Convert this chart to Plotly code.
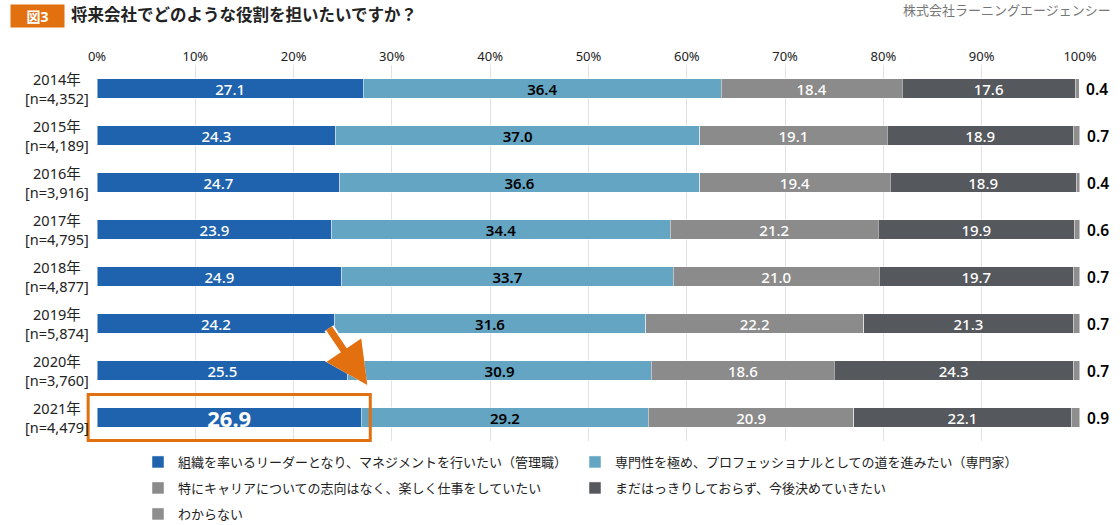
import plotly.graph_objects as go

years = ["2014年", "2015年", "2016年", "2017年", "2018年", "2019年", "2020年", "2021年"]
ns = ["[n=4,352]", "[n=4,189]", "[n=3,916]", "[n=4,795]", "[n=4,877]", "[n=5,874]", "[n=3,760]", "[n=4,479]"]
manager = [27.1, 24.3, 24.7, 23.9, 24.9, 24.2, 25.5, 26.9]
specialist = [36.4, 37.0, 36.6, 34.4, 33.7, 31.6, 30.9, 29.2]
no_pref = [18.4, 19.1, 19.4, 21.2, 21.0, 22.2, 18.6, 20.9]
undecided = [17.6, 18.9, 18.9, 19.9, 19.7, 21.3, 24.3, 22.1]
unknown = [0.4, 0.7, 0.4, 0.6, 0.7, 0.7, 0.7, 0.9]
x_ticks = [0, 10, 20, 30, 40, 50, 60, 70, 80, 90, 100]

names = [
    "組織を率いるリーダーとなり、マネジメントを行いたい（管理職）",
    "専門性を極め、プロフェッショナルとしての道を進みたい（専門家）",
    "特にキャリアについての志向はなく、楽しく仕事をしていたい",
    "まだはっきりしておらず、今後決めていきたい",
    "わからない",
]
colors = ["#1F63AE", "#64A5C3", "#8B8B8B", "#55585D", "#8E8E8E"]
legend_ids = ["legend", "legend", "legend2", "legend2", "legend3"]
series = [manager, specialist, no_pref, undecided, unknown]

FONT = "Noto Sans, Noto Sans CJK JP"
W, H = 1120, 525
L, R, T, B = 97, 40, 65, 84
PW, PH = W - L - R, H - T - B

def px(xp):
    return (xp - L) / PW

def py(yp):
    return (H - B - yp) / PH

ypos = list(range(len(years)))
ORANGE = "#E2700F"

fig = go.Figure()
for i, (name, vals, col) in enumerate(zip(names, series, colors)):
    common = dict(y=ypos, x=vals, name=name, orientation="h", legend=legend_ids[i],
                  marker=dict(color=col, line=dict(color="rgba(255,255,255,0.6)", width=0.8)),
                  width=0.41, constraintext="none", cliponaxis=False, hoverinfo="skip")
    if i < 4:
        tcol = "black" if i == 1 else "white"
        sizes = [15] * len(vals)
        weights = [600 if i == 1 else 500] * len(vals)
        if i == 0:
            sizes[-1] = 22
            weights[-1] = 700
        fig.add_trace(go.Bar(**common, text=[f"{v:.1f}" for v in vals],
                             textposition="inside", insidetextanchor="middle",
                             textfont=dict(color=tcol, size=sizes, family=FONT, weight=weights)))
    else:
        fig.add_trace(go.Bar(**common, text=[f"\u00a0{v:.1f}" for v in vals],
                             textposition="outside",
                             textfont=dict(color="black", size=15.5, family=FONT, weight=600)))

# category labels, centred (two lines)
for yv, yr, nn in zip(ypos, years, ns):
    fig.add_annotation(xref="paper", yref="y", x=px(57), y=yv, xanchor="center", yanchor="middle",
                       text=f"{yr}<br>{nn}", align="center", showarrow=False,
                       font=dict(family=FONT, size=14.5, color="#222222"))

# highlight box around 2021 manager bar (paper coords derived from data)
n = len(years)
fig.add_shape(type="rect", xref="paper", yref="paper",
              x0=-0.9 / 100, x1=(manager[-1] + 0.9) / 100,
              y0=(0.5 - 0.49) / n, y1=(0.5 + 0.49) / n,
              line=dict(color=ORANGE, width=3), fillcolor="rgba(0,0,0,0)", layer="above")

# arrow (white outline + orange)
for w, s, c in [(11, 0.85, "white"), (7, 1.2, ORANGE)]:
    fig.add_annotation(x=27.5, y=6.31, ax=23.5, ay=5.07, xref="x", yref="y", axref="x", ayref="y",
                       showarrow=True, arrowhead=2, arrowsize=s,
                       arrowwidth=w, arrowcolor=c, text="")

# title elements
fig.add_annotation(xref="paper", yref="paper", x=px(10), y=py(4), xanchor="left", yanchor="top",
                   text="<b>図3</b>", showarrow=False, bgcolor=ORANGE, borderpad=2,
                   width=49, height=18,
                   font=dict(family=FONT, size=14, color="white"))
fig.add_annotation(xref="paper", yref="paper", x=px(69), y=py(15), xanchor="left", yanchor="middle",
                   text="<b>将来会社でどのような役割を担いたいですか？</b>", showarrow=False,
                   font=dict(family=FONT, size=16.5, color="#222222"))
fig.add_annotation(xref="paper", yref="paper", x=px(1113), y=py(10), xanchor="right", yanchor="middle",
                   text="株式会社ラーニングエージェンシー", showarrow=False,
                   font=dict(family=FONT, size=13, color="#777777"))

leg_common = dict(orientation="h", x=px(138), xanchor="left", yanchor="middle",
                  entrywidth=392, entrywidthmode="pixels", traceorder="normal",
                  font=dict(family=FONT, size=13, color="#222222"), itemclick=False,
                  bgcolor="rgba(0,0,0,0)")

fig.update_layout(
    width=W, height=H,
    margin=dict(l=L, r=R, t=T, b=B, autoexpand=False),
    barmode="stack",
    plot_bgcolor="white", paper_bgcolor="white",
    font=dict(family=FONT, size=13, color="#222222"),
    showlegend=True,
    legend=dict(**leg_common, y=py(462)),
    legend2=dict(**leg_common, y=py(488)),
    legend3=dict(**leg_common, y=py(514)),
    xaxis=dict(range=[0, 100.001], side="top", tickvals=x_ticks,
               ticktext=[f"{t}%" for t in x_ticks], showgrid=True, gridcolor="#E2E2E2",
               gridwidth=1, zeroline=False, showline=False, ticks="",
               tickfont=dict(size=13, color="#222222"), fixedrange=True),
    yaxis=dict(range=[n - 0.5, -0.5], tickvals=ypos, showticklabels=False,
               showgrid=False, zeroline=False, ticks="", fixedrange=True),
)

fig.write_html("out.html")
